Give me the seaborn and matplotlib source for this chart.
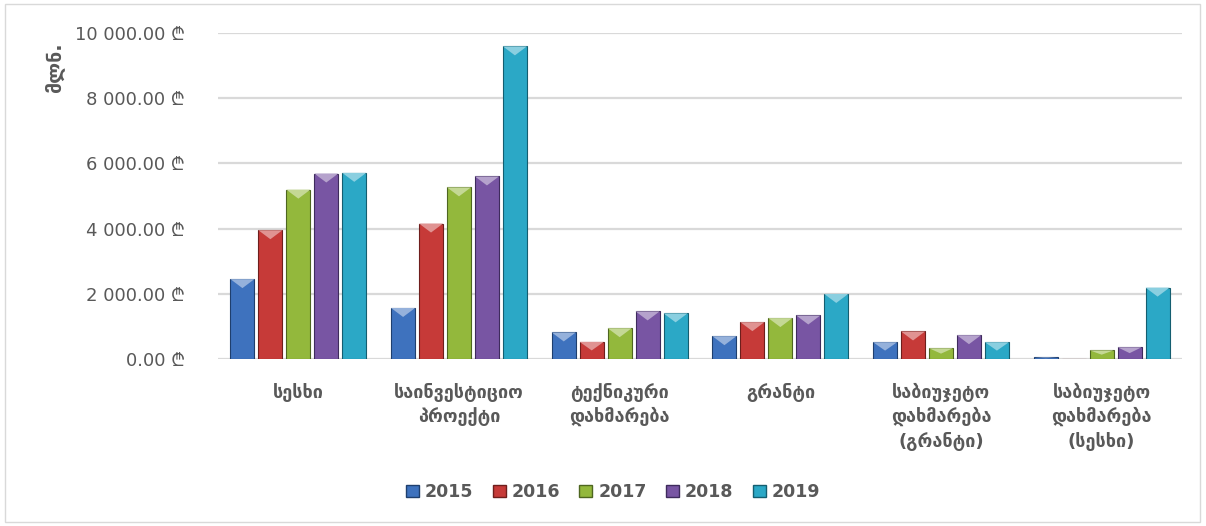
import matplotlib
matplotlib.use("Agg")
import matplotlib.pyplot as plt
import matplotlib.patches as mpatches
import matplotlib.colors as mcolors
import seaborn as sns
import pandas as pd
import numpy as np

categories = ["სესხი", "საინვესტიციო\nპროექტი", "ტექნიკური\nდახმარება", "გრანტი",
              "საბიუჯეტო\nდახმარება\n(გრანტი)", "საბიუჯეტო\nდახმარება\n(სესხი)"]
years = ["2015", "2016", "2017", "2018", "2019"]
v2015 = [2450, 1565, 815, 700, 515, 50]
v2016 = [3950, 4155, 525, 1130, 845, 0]
v2017 = [5195, 5265, 945, 1255, 330, 265]
v2018 = [5690, 5600, 1460, 1335, 730, 360]
v2019 = [5710, 9590, 1400, 1995, 515, 2190]
colors = ["#3E72BE", "#C63A38", "#93B83C", "#7855A3", "#2BA8C6"]
edges = ["#1F3F6E", "#6E1E1C", "#4E6620", "#3E2B5C", "#145E70"]
yticks = [0, 2000, 4000, 6000, 8000, 10000]

series = [v2015, v2016, v2017, v2018, v2019]
rows = []
for y, vals in zip(years, series):
    for c, v in zip(categories, vals):
        rows.append({"cat": c, "year": y, "val": v})
df = pd.DataFrame(rows)

sns.set_theme(style="white")
plt.rcParams["font.family"] = ["DejaVu Sans", "Noto Sans"]

fig = plt.figure(figsize=(12.06, 5.26), dpi=100)
ax = fig.add_axes([218/1206, 1-359/526, (1182-218)/1206, (359-33)/526])

sns.barplot(data=df, x="cat", y="val", hue="year", palette=colors, ax=ax,
            width=0.87, gap=0.14, legend=False, saturation=1)

ax.set_ylim(0, 10000)
ax.set_xlim(-0.5, len(categories) - 0.5)

# pixel -> data height for bevel triangles
px_per_unit = (359 - 33) / 10000.0
tri_h = 9 / px_per_unit
for i, cont in enumerate(ax.containers):
    light = mcolors.to_rgb(colors[i])
    light = tuple(min(1, c + (1 - c) * 0.45) for c in light)
    for p in cont:
        p.set_edgecolor(edges[i])
        p.set_linewidth(0.8)
        p.set_zorder(3)
        h = p.get_height()
        if h <= 0:
            continue
        x0 = p.get_x()
        w = p.get_width()
        th = min(tri_h, h * 0.5)
        ax.fill([x0, x0 + w, x0 + w / 2], [h, h, h - th], color=light,
                zorder=4, linewidth=0)

ax.set_yticks(yticks)
ax.set_yticklabels([f"{t:,.2f}".replace(",", " ") + " ₾" for t in yticks],
                   fontsize=13, color="#595959")
ax.tick_params(axis="y", length=0, pad=24)
ax.tick_params(axis="x", length=0, pad=17)
for lbl in ax.get_xticklabels():
    lbl.set_fontsize(13)
    lbl.set_color("#595959")
    lbl.set_fontweight("bold")
    lbl.set_linespacing(1.35)
    lbl.set_verticalalignment("top")
ax.set_xlabel("")
ax.set_ylabel("")
ax.yaxis.grid(True, color="#D9D9D9", linewidth=1.6, zorder=0)
ax.set_axisbelow(True)
for s in ax.spines.values():
    s.set_visible(False)

fig.text(54/1206, 1-68/526, "მლნ.", rotation=90, ha="center", va="center",
         fontsize=14, fontweight="bold", color="#595959")

handles = [mpatches.Patch(facecolor=colors[i], edgecolor=edges[i], label=years[i]) for i in range(5)]
leg = fig.legend(handles=handles, loc="center", bbox_to_anchor=(613/1206, 1-492/526),
                 ncol=5, frameon=False, handlelength=0.75, handleheight=0.75,
                 handletextpad=0.35, columnspacing=1.1,
                 prop={"size": 12.5, "weight": "bold"})
for t in leg.get_texts():
    t.set_color("#595959")

fig.patches.append(mpatches.Rectangle((5/1206, 4/526), 1195/1206, 518/526,
                                      transform=fig.transFigure, fill=False,
                                      edgecolor="#D9D9D9", linewidth=1))

fig.savefig("out.png", dpi=100)
